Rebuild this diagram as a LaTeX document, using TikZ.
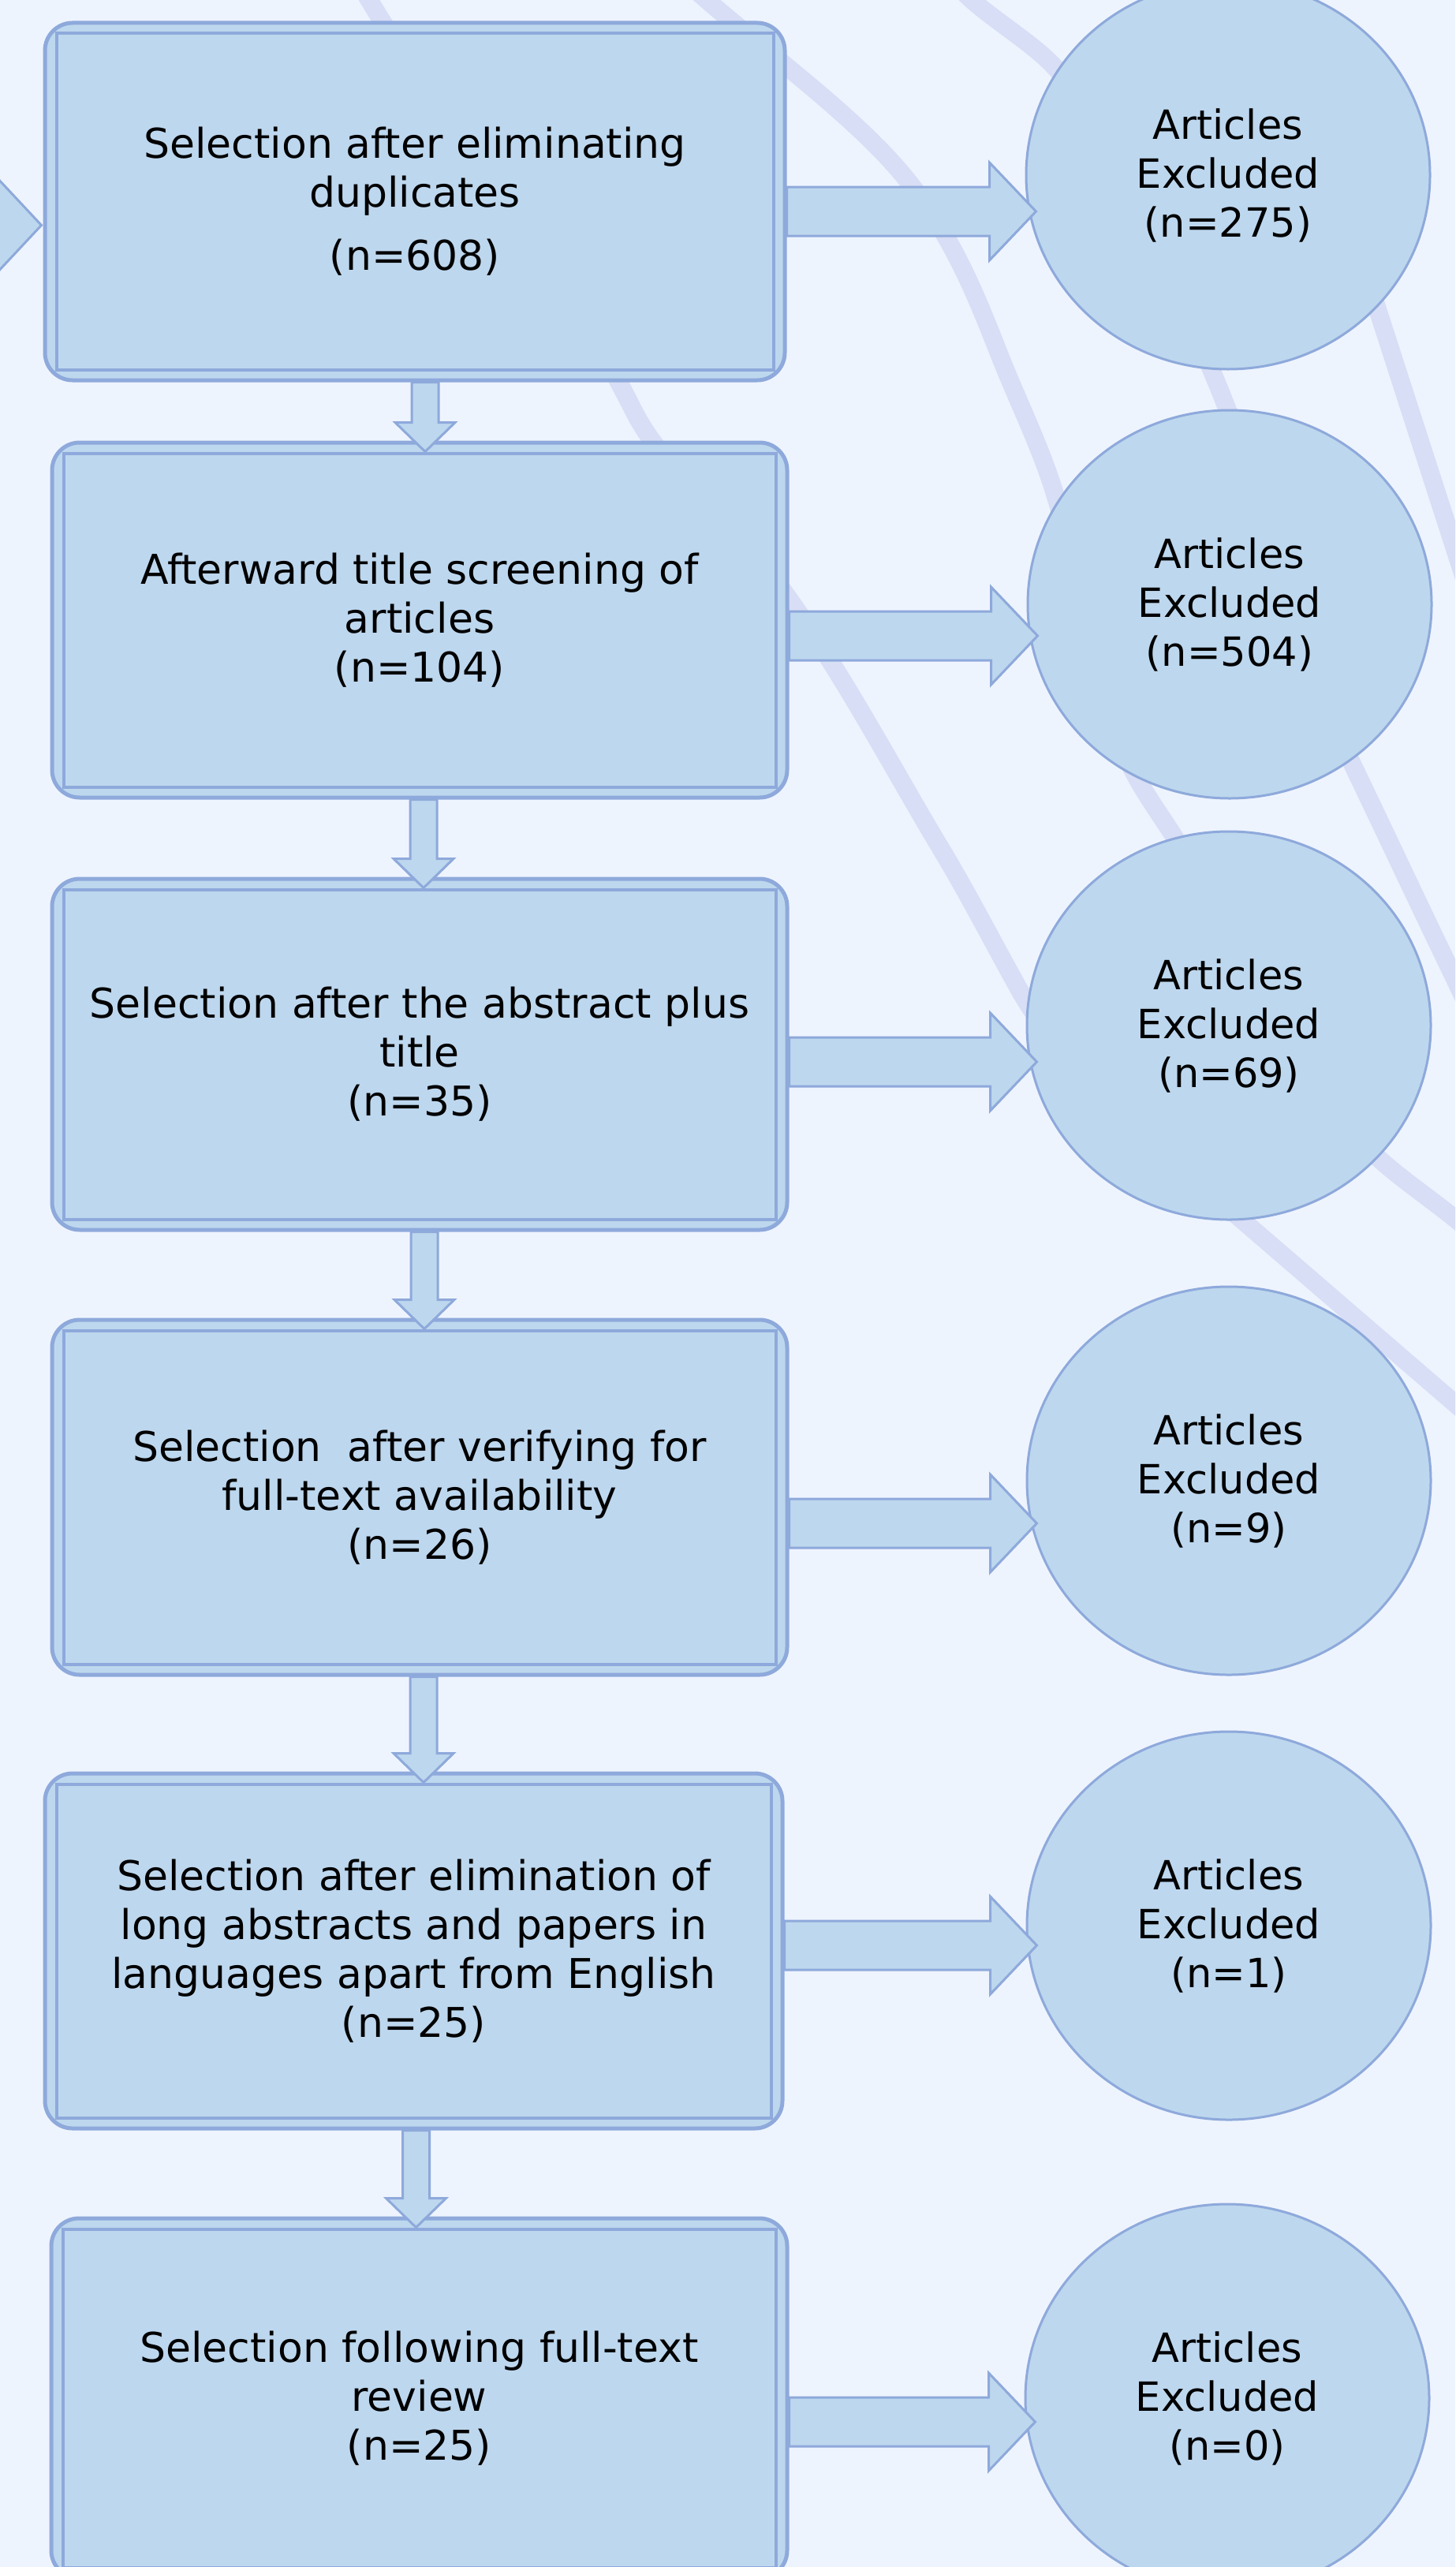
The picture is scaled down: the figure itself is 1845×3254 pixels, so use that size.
\documentclass[tikz,border=0pt]{standalone}
\usepackage{fontspec}
\setmainfont{DejaVu Sans}
\usetikzlibrary{shapes.geometric,calc}
\definecolor{bgc}{RGB}{238,244,254}
\definecolor{boxfill}{RGB}{189,215,238}
\definecolor{boxline}{RGB}{142,169,219}
\definecolor{swooshc}{RGB}{216,222,245}
\newcommand\innerframe[1]{\draw[innerln] ([xshift=17pt,yshift=-16pt]#1.north west) rectangle ([xshift=-17pt,yshift=16pt]#1.south east);}
\newcommand\rarr[3]{\draw[fatarrow] let \p1=([yshift=#3]#1.east), \p2=(#2.west) in (\x1,\y1+31pt) -- (\x2-45pt,\y1+31pt) -- (\x2-45pt,\y1+62pt) -- (\x2+14pt,\y1) -- (\x2-45pt,\y1-62pt) -- (\x2-45pt,\y1-31pt) -- (\x1,\y1-31pt) -- cycle;}
\newcommand\darr[3]{\draw[fatarrow] let \p1=([xshift=#3]#1.south), \p2=(#2.north) in (\x1-17pt,\y1) -- (\x1-17pt,\y2+23pt) -- (\x1-38pt,\y2+23pt) -- (\x1,\y2-14pt) -- (\x1+38pt,\y2+23pt) -- (\x1+17pt,\y2+23pt) -- (\x1+17pt,\y1) -- cycle;}
\begin{document}
\begin{tikzpicture}[x=1pt,y=-1pt,
  stepbox/.style={draw=boxline, line width=5pt, fill=boxfill, rounded corners=35pt, align=center, inner sep=0pt, text=black, font=\fontsize{52}{62}\selectfont},
  innerln/.style={draw=boxline, line width=4pt},
  excl/.style={ellipse, draw=boxline, line width=3pt, fill=boxfill, minimum width=512pt, minimum height=492pt, inner sep=0pt, align=center, text=black, font=\fontsize{51}{62}\selectfont},
  fatarrow/.style={draw=boxline, line width=3pt, fill=boxfill, line join=miter},
  swoosh/.style={draw=swooshc, line width=23pt}]
\useasboundingbox (0,0) rectangle (1845,3254);
\clip (0,0) rectangle (1845,3254);
\fill[bgc] (0,0) rectangle (1845,3254);
% background swooshes
\draw[swoosh] (444,-40) -- (468,0) .. controls (572,173) and (717,347) .. (803,520)
  .. controls (843,600) and (945,680) .. (1001,760)
  .. controls (1074,864) and (1128,967) .. (1190,1071)
  .. controls (1227,1132) and (1258,1193) .. (1292,1254)
  .. controls (1345,1349) and (1456,1444) .. (1566,1539)
  -- (1950,1870);
\draw[swoosh] (850,-40) -- (896,0) .. controls (984,76) and (1089,152) .. (1150,228)
  .. controls (1211,304) and (1240,381) .. (1270,457)
  .. controls (1293,514) and (1321,571) .. (1338,628)
  .. controls (1373,743) and (1377,859) .. (1435,974)
  .. controls (1450,1005) and (1473,1035) .. (1492,1066)
  .. controls (1573,1197) and (1607,1328) .. (1738,1459)
  .. controls (1767,1488) and (1809,1516) .. (1845,1545)
  -- (1950,1630);
\draw[swoosh] (1190,-40) -- (1232,0) .. controls (1265,29) and (1312,57) .. (1338,86)
  .. controls (1452,213) and (1480,340) .. (1535,467)
  .. controls (1605,630) and (1636,794) .. (1709,957)
  .. controls (1757,1057) and (1799,1147) .. (1845,1242)
  -- (1900,1360);
\draw[swoosh] (1600,-62) -- (1890,837);
% boxes
\node[stepbox, minimum width=938pt, minimum height=453pt] (b1) at (526,255.5) {Selection after eliminating\\duplicates\\[18pt](n=608)};
\node[stepbox, minimum width=932pt, minimum height=450pt] (b2) at (532,786) {Afterward title screening of\\articles\\(n=104)};
\node[stepbox, minimum width=932pt, minimum height=445pt] (b3) at (532,1336.5) {Selection after the abstract plus\\title\\(n=35)};
\node[stepbox, minimum width=932pt, minimum height=450pt] (b4) at (532,1898) {Selection~ after verifying for\\full-text availability\\(n=26)};
\node[stepbox, minimum width=935pt, minimum height=450pt] (b5) at (524.5,2473) {Selection after elimination of\\long abstracts and papers in\\languages apart from English\\(n=25)};
\node[stepbox, minimum width=933pt, minimum height=456pt] (b6) at (531.5,3040) {Selection following full-text\\review\\(n=25)};
\innerframe{b1}\innerframe{b2}\innerframe{b3}\innerframe{b4}\innerframe{b5}\innerframe{b6}
% circles
\node[excl] (c1) at (1557,222) {Articles\\Excluded\\(n=275)};
\node[excl] (c2) at (1559,766) {Articles\\Excluded\\(n=504)};
\node[excl] (c3) at (1558,1300) {Articles\\Excluded\\(n=69)};
\node[excl] (c4) at (1558,1877) {Articles\\Excluded\\(n=9)};
\node[excl] (c5) at (1558,2441) {Articles\\Excluded\\(n=1)};
\node[excl] (c6) at (1556,3040) {Articles\\Excluded\\(n=0)};
% arrows
\draw[fatarrow] let \p1=([yshift=-30pt]b1.west) in (\x1-120pt,\y1+31pt) -- (\x1-60pt,\y1+31pt) -- (\x1-60pt,\y1+62pt) -- (\x1-2pt,\y1) -- (\x1-60pt,\y1-62pt) -- (\x1-60pt,\y1-31pt) -- (\x1-120pt,\y1-31pt) -- cycle;
\rarr{b1}{c1}{-12.5pt}
\rarr{b2}{c2}{-20pt}
\rarr{b3}{c3}{-9.5pt}
\rarr{b4}{c4}{-33pt}
\rarr{b5}{c5}{7pt}
\rarr{b6}{c6}{-30pt}
\darr{b1}{b2}{13pt}
\darr{b2}{b3}{5pt}
\darr{b3}{b4}{6pt}
\darr{b4}{b5}{5pt}
\darr{b5}{b6}{3pt}
\end{tikzpicture}
\end{document}
